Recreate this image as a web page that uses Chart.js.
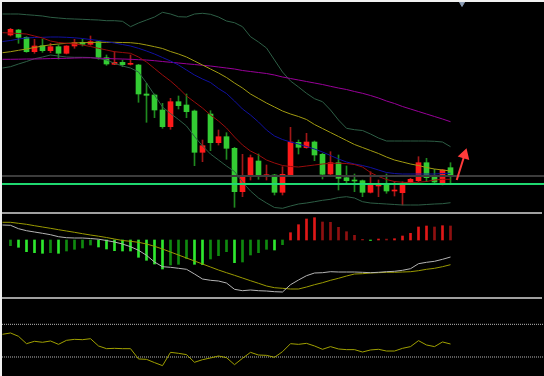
<!DOCTYPE html>
<html><head><meta charset="utf-8">
<script src="https://cdn.jsdelivr.net/npm/chart.js@4.4.1/dist/chart.umd.min.js"></script>
<style>
html,body{margin:0;padding:0;background:#000;width:544px;height:376px;overflow:hidden;position:relative;}
canvas{position:absolute;left:0;display:block;}
#main{top:0}
#macd{top:214px}
#rsi{top:299px}
.sep{position:absolute;left:0;width:542px;height:2px;background:#a0a0a0;}
.edge{position:absolute;background:#f0f0f0;}
</style></head><body>
<canvas id="main" width="544" height="212"></canvas>
<div class="sep" style="top:212px"></div>
<canvas id="macd" width="544" height="82"></canvas>
<div class="sep" style="top:297px"></div>
<canvas id="rsi" width="544" height="82"></canvas>
<div class="edge" style="left:0;top:0;width:544px;height:2px"></div>
<div class="edge" style="left:0;top:0;width:2px;height:376px"></div>
<script>
// ---- price bars (bar 0 .. 55) ----
const open = [1465.0,1470.0,1462.7,1448.3,1454.3,1449.3,1453.3,1446.7,1454.0,1457.7,
  1455.7,1458.3,1442.3,1435.7,1437.7,1435.7,1435.0,1406.0,1405.0,1390.0,
  1373.3,1398.3,1395.0,1389.0,1347.7,1386.0,1357.3,1363.3,1351.7,1308.3,
  1324.3,1339.0,1324.3,1325.0,1307.7,1325.0,1357.7,1352.3,1358.0,1345.7,
  1326.0,1337.3,1322.3,1320.0,1319.3,1307.7,1314.0,1316.0,1309.0,1307.3,
  1316.7,1319.3,1337.3,1323.3,1317.3,1332.3];
const high = [1471.7,1470.7,1463.3,1460.7,1461.0,1456.7,1455.0,1454.3,1460.7,1460.7,
  1464.0,1458.7,1445.0,1448.3,1440.0,1445.0,1435.7,1416.7,1406.0,1396.7,
  1401.7,1404.0,1406.0,1390.0,1360.0,1389.3,1370.0,1367.3,1352.7,1345.7,
  1345.0,1346.0,1335.0,1325.7,1333.3,1372.7,1360.0,1366.7,1359.0,1346.7,
  1348.3,1345.0,1334.0,1326.0,1320.0,1328.3,1320.0,1326.0,1318.3,1318.3,
  1321.7,1343.3,1341.7,1330.7,1330.7,1337.3];
const low = [1464.0,1456.7,1447.7,1446.7,1447.7,1447.3,1441.0,1446.0,1451.7,1454.0,
  1454.7,1440.7,1434.7,1435.3,1433.3,1435.0,1397.7,1377.7,1382.3,1371.7,
  1370.7,1391.0,1382.3,1334.3,1338.3,1349.3,1355.0,1340.7,1292.7,1303.3,
  1320.0,1320.7,1320.0,1305.0,1305.0,1324.0,1346.0,1351.7,1339.3,1321.0,
  1325.0,1310.0,1316.7,1308.3,1303.3,1307.0,1303.3,1306.7,1304.0,1295.0,
  1316.0,1318.3,1318.3,1316.0,1315.0,1316.7];
const close = [1470.7,1462.7,1448.3,1454.0,1449.3,1453.3,1446.7,1454.0,1457.3,1455.7,
  1458.3,1442.7,1436.0,1437.7,1435.3,1436.3,1406.0,1404.7,1390.0,1373.3,
  1398.3,1394.3,1388.3,1347.7,1354.3,1357.3,1363.3,1351.7,1308.3,1324.3,
  1342.3,1325.0,1325.3,1307.7,1325.7,1358.0,1352.7,1358.0,1345.0,1325.7,
  1337.3,1321.7,1319.3,1319.0,1307.7,1314.7,1314.7,1309.0,1310.0,1316.7,
  1320.7,1337.3,1322.3,1318.0,1330.0,1324.0];

// ---- indicator lines (bar -1 .. 55) ----
const bbUpper = [1486.0,1486.0,1486.0,1485.3,1484.7,1484.0,1482.7,1482.0,1481.3,1481.0,1480.7,1480.3,1480.0,1479.3,1479.3,1478.7,1473.3,1477.0,1480.0,1483.0,1487.7,1486.0,1483.3,1483.0,1486.0,1486.7,1485.7,1483.0,1479.0,1477.3,1473.3,1463.3,1458.0,1452.0,1440.0,1428.0,1419.0,1413.0,1406.7,1401.3,1398.3,1390.0,1380.0,1371.7,1370.3,1369.5,1366.0,1362.0,1359.0,1359.0,1359.0,1359.0,1359.0,1359.0,1358.7,1358.0,1353.3];
const bbLower = [1432.0,1433.3,1436.0,1438.5,1441.3,1443.0,1445.0,1444.0,1443.0,1442.7,1442.7,1442.5,1441.5,1440.0,1436.7,1434.0,1432.0,1428.0,1417.0,1405.0,1393.0,1386.5,1380.5,1374.0,1363.5,1354.0,1346.0,1340.0,1334.0,1328.5,1318.0,1309.0,1302.0,1297.0,1292.5,1291.7,1294.0,1296.0,1297.0,1298.3,1299.7,1300.7,1302.5,1303.3,1302.0,1298.3,1297.0,1296.5,1296.0,1295.5,1295.0,1295.0,1295.0,1295.5,1296.0,1296.3,1297.3];
const maRed = [1467.3,1467.0,1466.5,1466.0,1464.0,1462.0,1459.0,1457.5,1456.7,1456.0,1455.0,1453.5,1451.7,1450.0,1448.3,1447.5,1446.7,1443.0,1438.0,1431.5,1425.0,1419.0,1412.0,1404.0,1398.0,1392.0,1385.0,1379.0,1372.0,1363.0,1355.0,1349.0,1345.0,1340.0,1337.0,1334.5,1333.5,1333.0,1334.0,1335.0,1336.0,1336.7,1336.7,1336.5,1335.5,1333.0,1327.5,1323.5,1320.5,1318.5,1317.7,1317.3,1317.7,1318.5,1320.0,1320.7,1320.7];
const maBlue = [1458.5,1459.5,1461.0,1462.0,1462.5,1462.7,1463.0,1463.0,1462.7,1462.2,1461.5,1460.5,1459.5,1458.5,1457.0,1455.5,1454.0,1451.7,1449.0,1446.0,1442.5,1439.0,1435.0,1430.0,1425.0,1421.0,1417.5,1411.5,1406.5,1399.0,1391.0,1385.0,1378.0,1370.0,1364.0,1360.5,1358.0,1356.0,1353.5,1351.0,1348.0,1344.5,1341.0,1338.0,1336.0,1334.5,1332.5,1330.0,1327.5,1326.5,1326.0,1326.0,1326.0,1326.0,1326.0,1326.5,1326.7];
const maOlive = [1447.3,1448.3,1449.7,1451.0,1452.5,1454.0,1455.2,1456.0,1456.7,1457.0,1457.3,1457.5,1457.7,1457.7,1457.7,1457.5,1457.3,1456.5,1455.0,1453.3,1451.5,1448.5,1446.0,1443.0,1439.0,1435.0,1431.0,1427.0,1422.5,1417.0,1412.0,1406.0,1401.5,1397.0,1393.0,1389.0,1386.0,1383.5,1380.5,1375.5,1371.5,1367.5,1363.5,1359.5,1355.5,1352.5,1349.5,1346.5,1343.0,1340.0,1338.0,1336.0,1334.5,1332.5,1331.0,1330.0,1329.0];
const maPurple = [1440.7,1440.7,1440.8,1441.0,1441.0,1441.2,1441.4,1441.6,1441.7,1442.0,1442.2,1442.2,1441.8,1441.5,1441.2,1441.0,1440.7,1440.3,1440.0,1439.3,1438.5,1437.7,1437.0,1436.2,1435.5,1434.7,1434.0,1433.0,1432.0,1431.0,1429.5,1428.5,1427.5,1426.5,1425.0,1423.0,1421.5,1420.0,1418.5,1417.0,1415.5,1413.7,1412.0,1410.5,1408.5,1406.7,1404.5,1402.0,1399.0,1396.5,1393.5,1391.0,1388.5,1386.0,1383.5,1381.0,1378.3];
const bidLevel = 1324.0;
const greenLevel = 1316.0;
const arrowPath = [[55.78, 1320.0], [56.75, 1345.0]];
const shiftMark = [[56.44, 1497.5]];

// ---- MACD (histogram bar 0..55, lines bar -1..55) ----
const macdHist = [-5.7,-7.3,-11.7,-12.7,-13.3,-12.7,-13.3,-11,-9.3,-8,-5,-7,-9,-10.7,-11,-11,-17.3,-20.3,-24,-29,-25,-24.3,-18.7,-24.3,-24.7,-19,-15.7,-11.7,-22.7,-22,-15,-12.7,-9.3,-10,-4.7,7.3,15.3,21,22.3,18,17.7,12.7,8.3,4.7,0.7,-0.5,1,0.9,1.3,4,6.7,13,14,13,14.3,14];
const macdMain = [15,14.7,11.3,9.3,8,6.7,5.3,3.3,2.3,2,2,1.5,0.8,-0.5,-2,-4,-6.7,-10.3,-15.3,-22,-26.7,-27.3,-28.3,-29.3,-34,-39,-40.3,-41,-43,-49.3,-50.7,-50,-50.7,-51,-51.7,-52,-44.7,-40,-35.7,-33,-32.7,-31.7,-32,-32,-32,-32.3,-32.7,-32.3,-31.7,-31.3,-30.3,-28.7,-23.7,-22.3,-21.3,-19.3,-17];
const macdSignal = [17.7,17.7,16.7,15.7,14.3,13,11.7,10.3,9,7.7,6.3,5,3.8,2.5,1,-0.5,-1.3,-2.3,-4,-6.3,-9,-12,-15,-18,-21,-24,-27,-30,-32.7,-35.3,-38,-40.7,-43.3,-46,-47.7,-48.3,-49,-49,-47,-44.7,-42.7,-40.3,-38.3,-36,-34,-33.7,-33,-32.7,-32.3,-32.3,-32,-31.7,-30.7,-29.3,-28.3,-26.7,-24.7];

// ---- RSI (bar -1..55) ----
const rsi = [57.8,59.4,55.3,46.3,49.2,48.0,49.6,45.5,50.4,51.6,51.2,52.4,43.5,40.2,40.6,40.2,40.2,27.6,27.1,23.1,19.4,35.7,34.5,32.9,23.5,26.7,28.8,31.2,29.2,20.6,28.4,35.7,32.4,32.0,29.6,36.5,46.3,45.5,46.7,43.5,39.4,42.7,39.8,39.0,39.0,36.1,38.6,39.4,37.3,37.3,40.6,42.7,50.0,44.7,42.7,48.4,45.9];
const rsiLevels = [70, 30];

// bar numbers
const candleBars = open.map((_, i) => i);
const lineBars = bbUpper.map((_, i) => i - 1);

const X_MIN = -1.3125, X_MAX = 66.6875;
const UP_BODY = '#ff1a1a', DOWN_BODY = '#33cc33';
const UP_WICK = '#a01818', DOWN_WICK = '#1f8a1f';

function xScale(){ return {type:'linear', min:X_MIN, max:X_MAX, display:false, offset:false}; }
function base(yMin, yMax){
  return {
    responsive:false, animation:false, devicePixelRatio:1, events:[],
    layout:{padding:0, autoPadding:false},
    elements:{point:{hoverRadius:0, hitRadius:0}},
    plugins:{legend:{display:false}, tooltip:{enabled:false}},
    scales:{x:xScale(), y:{display:false, min:yMin, max:yMax}}
  };
}
function series(vals, bars){ return vals.map((v, i) => ({x: bars[i], y: v})); }
function line(vals, color, order, extra){
  return Object.assign({type:'line', data:series(vals, lineBars), borderColor:color, borderWidth:1,
    pointRadius:0, tension:0, fill:false, order:order}, extra || {});
}
function level(v, color, width, order, dash){
  return {type:'line', data:[{x:X_MIN,y:v},{x:X_MAX,y:v}], borderColor:color, borderWidth:width,
    pointRadius:0, fill:false, order:order, borderDash:dash || []};
}

const isDown = candleBars.map(i => close[i] < open[i]);

new Chart(document.getElementById('main'), {
  type:'bar',
  data:{datasets:[
    {type:'line', data:arrowPath.map(p=>({x:p[0],y:p[1]})), borderColor:'#ff3b3b', borderWidth:2,
      pointRadius:[0,5], pointStyle:'triangle', rotation:17, pointBackgroundColor:'#ff3b3b',
      pointBorderColor:'#ff3b3b', order:0},
    {type:'line', showLine:false, data:shiftMark.map(p=>({x:p[0],y:p[1]})), pointStyle:'triangle', rotation:180,
      pointRadius:4, pointBackgroundColor:'#8c9cb4', pointBorderColor:'#8c9cb4', order:0},
    level(greenLevel, '#1fd870', 2, 1),
    level(bidLevel, '#3c3c3c', 2, 1),
    line(maRed, '#990c0c', 2),
    line(maBlue, '#1010a0', 2),
    line(maOlive, '#a09a10', 2),
    line(maPurple, '#990099', 2),
    line(bbUpper, '#2d5e45', 2),
    line(bbLower, '#2d5e45', 2),
    {type:'bar', data:candleBars.map(i=>({x:i, y:[open[i], close[i]]})),
      backgroundColor:isDown.map(d=>d?DOWN_BODY:UP_BODY), barThickness:5, minBarLength:1,
      grouped:false, borderWidth:0, order:3},
    {type:'bar', data:candleBars.map(i=>({x:i, y:[low[i], high[i]]})),
      backgroundColor:isDown.map(d=>d?DOWN_WICK:UP_WICK), barThickness:1,
      grouped:false, borderWidth:0, order:4}
  ]},
  options: base(1288, 1500)
});

const G_BRIGHT='#2ee82e', G_DARK='#0f8a0f', R_BRIGHT='#e01818', R_DARK='#8f1010';
const histColors = macdHist.map((v,i)=>{
  const p = i>0 ? macdHist[i-1] : v;
  if (v < 0) return (i>0 && v <= p) ? G_BRIGHT : G_DARK;
  return v >= p ? R_BRIGHT : R_DARK;
});
new Chart(document.getElementById('macd'), {
  type:'bar',
  data:{datasets:[
    line(macdMain, '#b4b4b4', 0),
    line(macdSignal, '#9a9a00', 0),
    {type:'bar', data:series(macdHist, candleBars), backgroundColor:histColors, barThickness:2,
      grouped:false, borderWidth:0, order:1}
  ]},
  options: base(-56, 26)
});

new Chart(document.getElementById('rsi'), {
  type:'line',
  data:{datasets:[
    line(rsi, '#a0a000', 0),
    level(rsiLevels[0], '#b8b8b8', 1, 1, [1,1]),
    level(rsiLevels[1], '#b8b8b8', 1, 1, [1,1])
  ]},
  options: base(0.6, 101)
});
</script>
</body></html>
